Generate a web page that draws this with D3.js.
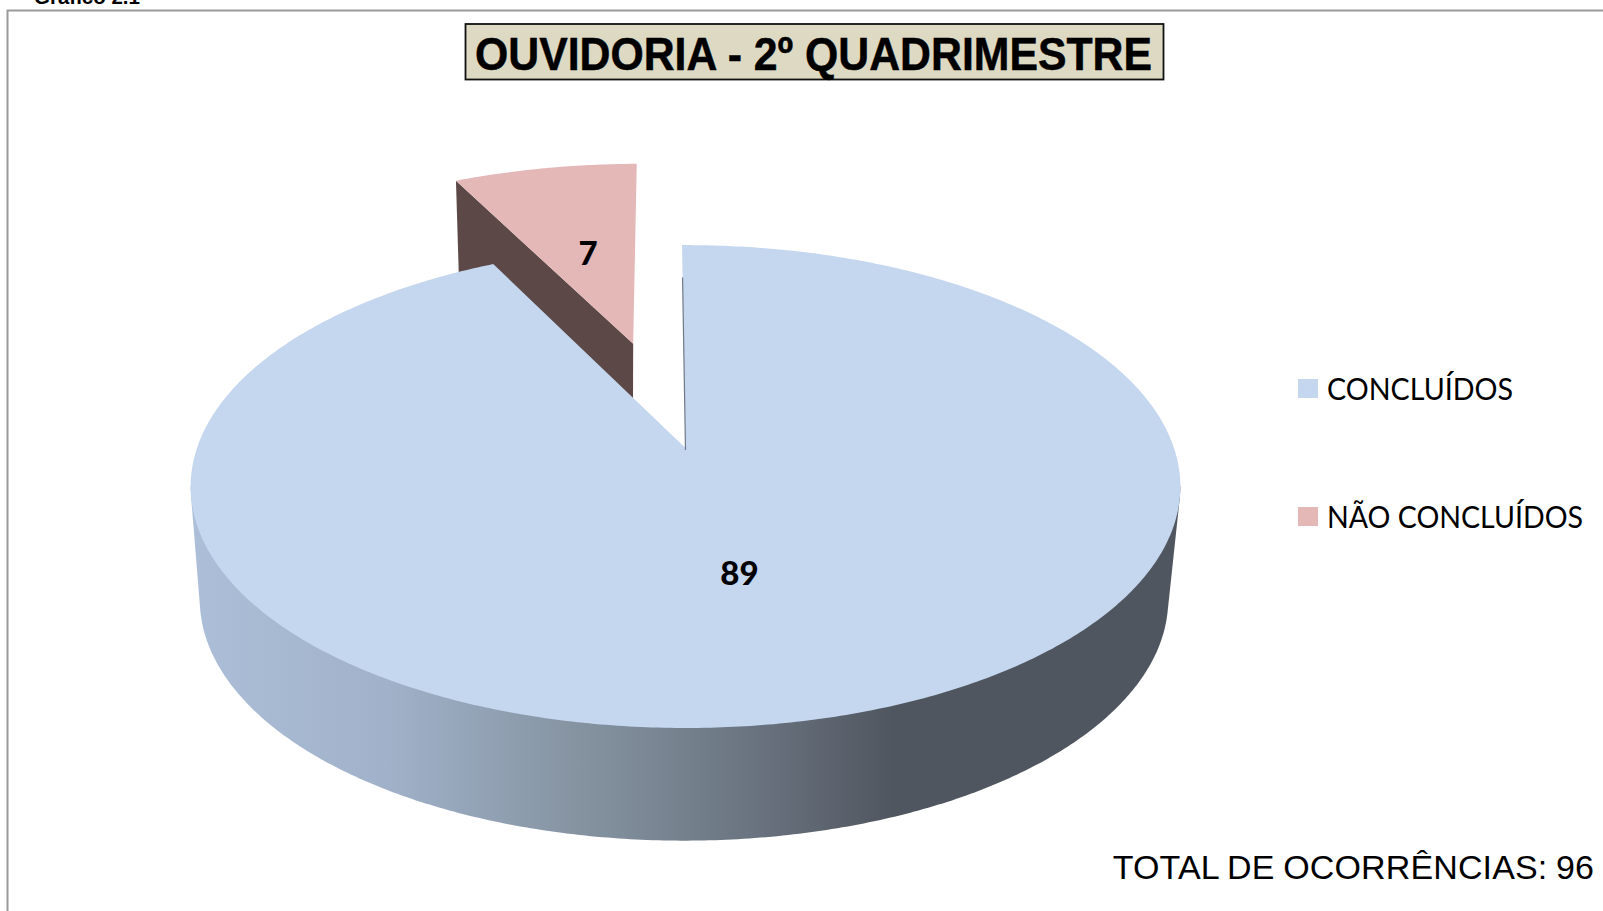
<!DOCTYPE html>
<html><head><meta charset="utf-8">
<script src="https://cdn.jsdelivr.net/npm/d3@7/dist/d3.min.js"></script>
<style>html,body{margin:0;padding:0;background:#fff;overflow:hidden}svg{display:block}</style>
</head><body><svg id="c" width="1603" height="911"></svg>
<script>
const categories = ["CONCLUÍDOS", "NÃO CONCLUÍDOS"];
const values = [89, 7];
const sliceColors = ["#c5d7ef", "#e5b8b8"];
const wallColors = ["#50565f", "#5c4947"];
const explode = [0, 0.49];
const rimScale = [1, 1.02];
const titleText = "OUVIDORIA - 2º QUADRIMESTRE";
const totalText = "TOTAL DE OCORRÊNCIAS: 96";
const captionText = "Gráfico 2.1";

const W = 1603, H = 911;
const svg = d3.select("#c");
const defs = svg.append("defs");

const K = 0.1596;
const top_ = {cx: 685.5, y0: 448, R: 488.5, B: 235.3};
const bot_ = {cx: 684, y0: 561, R: 478, B: 235};
function project(p, u, v) {
  const s = 1 / (1 - K * v);
  return [p.cx + p.R * u * s, p.y0 + p.B * v * s];
}
const rot = -0.0083;
const pie = d3.pie().value(d => d).sort(null).startAngle(rot).endAngle(2 * Math.PI + rot);
const arcs = pie(values);
function rimPoints(a0, a1, plane, off, r = 1) {
  const n = Math.max(2, Math.ceil(Math.abs(a1 - a0) / 0.01));
  return d3.range(n + 1).map(i => {
    const a = a0 + (a1 - a0) * i / n;
    return project(plane, r * Math.sin(a) + off[0], -r * Math.cos(a) + off[1]);
  });
}
const line = d3.line();
const offsets = arcs.map((d, i) => {
  const m = (d.startAngle + d.endAngle) / 2;
  return [explode[i] * Math.sin(m), -explode[i] * Math.cos(m)];
});

// pink slice: left cut wall then top face
const pink = arcs[1], pOff = offsets[1], pR = rimScale[1];
const pApexT = project(top_, pOff[0], pOff[1]);
const pApexB = project(bot_, pOff[0], pOff[1]);
const pLeftT = project(top_, pR * Math.sin(pink.startAngle) + pOff[0], -pR * Math.cos(pink.startAngle) + pOff[1]);
const pLeftB = project(bot_, pR * Math.sin(pink.startAngle) + pOff[0], -pR * Math.cos(pink.startAngle) + pOff[1]);
svg.append("path").attr("d", line([pLeftT, pApexT, pApexB, pLeftB]) + "Z").attr("fill", wallColors[1]);
svg.append("path").attr("d", line([pApexT, ...rimPoints(pink.startAngle, pink.endAngle, top_, pOff, pR)]) + "Z").attr("fill", sliceColors[1]);

// main slice: side wall (hull of the front rims) with horizontal gradient
const grad = defs.append("linearGradient").attr("id", "side").attr("gradientUnits", "userSpaceOnUse")
  .attr("x1", 191).attr("x2", 1181).attr("y1", 0).attr("y2", 0);
[[0, "#adbfd8"], [0.2, "#a0b1c9"], [0.4, "#84929f"], [0.55, "#6d7784"], [0.71, "#50565f"], [1, "#50565f"]]
  .forEach(s => grad.append("stop").attr("offset", s[0]).attr("stop-color", s[1]));
const hull = d3.polygonHull([
  ...rimPoints(Math.PI * 0.55, Math.PI * 1.45, top_, [0, 0]),
  ...rimPoints(Math.PI * 0.55, Math.PI * 1.45, bot_, [0, 0])
]);
svg.append("path").attr("d", line(hull) + "Z").attr("fill", "url(#side)");

// main slice top face
const main = arcs[0];
svg.append("path").attr("d", line([project(top_, 0, 0), ...rimPoints(main.startAngle, main.endAngle, top_, [0, 0])]) + "Z")
  .attr("fill", sliceColors[0]);

// cut wall of the main slice, seen edge on
const edgeA = project(top_, 0, 0);
const edgeB = project(top_, Math.sin(main.startAngle) * 0.82, -Math.cos(main.startAngle) * 0.82);
svg.append("line").attr("x1", edgeA[0]).attr("y1", edgeA[1] + 2).attr("x2", edgeB[0]).attr("y2", edgeB[1])
  .attr("stroke", "#6f7986").attr("stroke-width", 1.2);

// data labels
const label = (t, p) => svg.append("text").text(t).attr("x", p[0]).attr("y", p[1]).attr("text-anchor", "middle")
  .attr("font-family", "Lato").attr("font-weight", 900).attr("font-size", 33).attr("fill", "#000");
label(values[0], [739.5, 585]);
label(values[1], [588, 265]);

// frame
svg.append("path").attr("d", `M7.5,${H}V10.5H${W}`).attr("fill", "none").attr("stroke", "#9a9a9a").attr("stroke-width", 2);
svg.append("text").text(captionText).attr("x", 34).attr("y", 4).attr("font-family", "Liberation Sans")
  .attr("font-weight", 700).attr("font-size", 20.5).attr("fill", "#000");

// title
svg.append("rect").attr("x", 465.5).attr("y", 24).attr("width", 698).attr("height", 55.5)
  .attr("fill", "#ddd9c3").attr("stroke", "#111").attr("stroke-width", 1.8);
svg.append("text").text(titleText).attr("x", 475).attr("y", 69.5)
  .attr("textLength", 677).attr("lengthAdjust", "spacingAndGlyphs")
  .attr("font-family", "Liberation Sans").attr("font-weight", 700).attr("font-size", 46)
  .attr("stroke", "#000").attr("stroke-width", 0.5).attr("fill", "#000");

// legend
const legendWidths = [186, 256];
const ly = d3.scalePoint().domain(categories).range([388.5, 516.5]);
categories.forEach((c, i) => {
  svg.append("rect").attr("x", 1298).attr("y", ly(c) - 9.5).attr("width", 20).attr("height", 19).attr("fill", sliceColors[i]);
  svg.append("text").text(c).attr("x", 1327).attr("y", ly(c) + 11)
    .attr("textLength", legendWidths[i]).attr("lengthAdjust", "spacingAndGlyphs")
    .attr("font-family", "Lato").attr("font-size", 30).attr("fill", "#000");
});

// total
svg.append("text").text(totalText).attr("x", 1594).attr("y", 879).attr("text-anchor", "end")
  .attr("font-family", "Liberation Sans").attr("font-size", 34).attr("word-spacing", -1).attr("letter-spacing", 0.13).attr("fill", "#000");
</script></body></html>
